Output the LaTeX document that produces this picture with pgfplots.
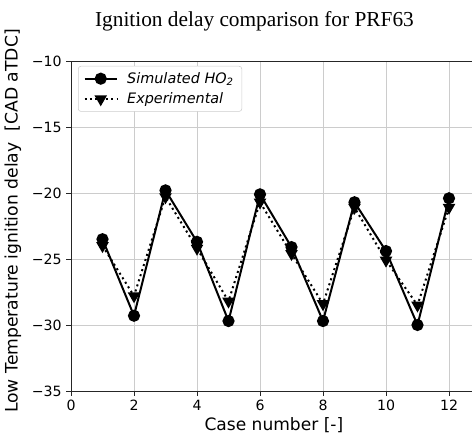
\documentclass[border=0pt]{standalone}
\usepackage{fontspec}
\setmainfont{DejaVu Sans}
\newfontfamily\titlefont{Liberation Serif}
\usepackage{pgfplots}
\pgfplotsset{compat=1.18}
\begin{document}
\begin{tikzpicture}
\useasboundingbox (-53.25pt,-33pt) rectangle (300.75pt,293.25pt);
\begin{axis}[
  at={(0,0)}, anchor=south west,
  scale only axis, width=300.75pt, height=247.5pt,
  xmin=0, xmax=12.73, ymin=-35, ymax=-10,
  separate axis lines,
  axis x line*=box, axis y line*=left,
  axis line style={line width=0.6pt, color=black!85},
  xtick={0,2,4,6,8,10,12},
  ytick={-35,-30,-25,-20,-15,-10},
  yticklabels={−35,−30,−25,−20,−15,−10},
  xtick pos=bottom, ytick pos=left,
  tick align=outside, major tick length=3.5pt,
  tick style={line width=0.6pt, color=black!85},
  grid=major,
  major grid style={line width=0.6pt, color=black!20},
  ticklabel style={font=\fontsize{10.6}{12}\selectfont},
  /pgf/number format/assume math mode=true,
  xlabel={Case number [-]},
  ylabel={Low Temperature ignition delay\ \ [CAD aTDC]},
  every axis x label/.style={at={(axis description cs:0.506,-0.103)}, anchor=center, font=\fontsize{12.8}{14}\selectfont},
  every axis y label/.style={at={(axis description cs:-0.145,0.515)}, rotate=90, anchor=center, font=\fontsize{12.9}{14}\selectfont},
  legend style={at={(axis description cs:0.0175,0.985)}, anchor=north west,
    draw=black!20, rounded corners=2pt, fill=white,
    font=\itshape\fontsize{10.8}{12}\selectfont,
    row sep=1.5pt, column sep=5pt, inner xsep=4pt, inner ysep=2.5pt},
  legend cell align=left,
  legend image code/.code={
    \draw[#1] (0cm,0cm) -- (0.85cm,0cm);
    \draw[#1, solid] plot coordinates {(0.425cm,0cm)};
  },
]
\addplot[black, line width=1.5pt, mark=*, mark size=3.8pt, mark options={solid}]
  coordinates {(1,-23.5) (2,-29.3) (3,-19.8) (4,-23.7) (5,-29.7) (6,-20.1)
               (7,-24.1) (8,-29.7) (9,-20.7) (10,-24.4) (11,-30.0) (12,-20.4)};
\addlegendentry{Simulated HO\textsubscript{2}}
\addplot[black, line width=1.5pt, dash pattern=on 1.5pt off 2.5pt, mark=triangle*, mark size=4pt, mark options={solid, rotate=180}]
  coordinates {(1,-24.0) (2,-27.8) (3,-20.3) (4,-24.2) (5,-28.2) (6,-20.7)
               (7,-24.6) (8,-28.4) (9,-21.1) (10,-25.1) (11,-28.5) (12,-21.1)};
\addlegendentry{Experimental}
\end{axis}
\node[font=\titlefont\fontsize{16}{18}\selectfont, anchor=center] at (137.6pt,277.5pt) {Ignition delay comparison for PRF63};
\end{tikzpicture}
\end{document}
